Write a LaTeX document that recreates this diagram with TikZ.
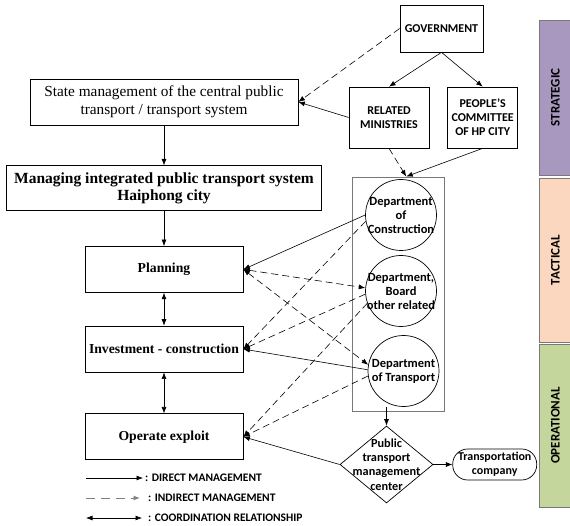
\documentclass[tikz,border=0pt]{standalone}
\usepackage{fontspec}
\setmainfont{Liberation Serif}
\newfontfamily\labelfont{Carlito}
\usetikzlibrary{shapes.geometric, arrows.meta, positioning}
\definecolor{strategic}{RGB}{168, 152, 192}
\definecolor{tactical}{RGB}{250, 215, 190}
\definecolor{operational}{RGB}{196, 214, 155}
\definecolor{framegray}{RGB}{120, 120, 120}
\tikzset{
    mainbox/.style={rectangle, draw, line width=0.7pt, align=center, inner sep=0pt, font=\fontsize{15.3}{17.7}\selectfont},
    stagebox/.style={rectangle, draw, line width=0.7pt, minimum width=158pt, minimum height=46pt, inner sep=0pt, font=\fontsize{13.7}{16}\selectfont\bfseries},
    orgbox/.style={rectangle, draw, line width=0.7pt, align=center, inner sep=0pt, font=\labelfont\fontsize{12}{14}\selectfont\bfseries},
    dept/.style={circle, draw, line width=0.7pt, minimum size=71pt, inner sep=0pt},
    depttext/.style={align=center, inner sep=0pt, font=\labelfont\fontsize{12.5}{14}\selectfont\bfseries},
    hub/.style={diamond, draw, line width=0.7pt, minimum width=93pt, minimum height=77pt, inner sep=0pt},
    company/.style={rectangle, draw, line width=0.7pt, rounded corners=15pt, minimum width=84pt, minimum height=31pt, inner sep=0pt, align=center, font=\labelfont\fontsize{12}{14}\selectfont\bfseries},
    panel/.style={rectangle, draw=framegray, line width=0.9pt},
    levelbar/.style={rectangle, draw=framegray, line width=0.8pt, minimum height=32pt, inner sep=0pt, font=\labelfont\fontsize{13}{15}\selectfont\bfseries},
    direct/.style={draw, -{Latex[length=6.5pt, width=5pt]}, line width=0.6pt},
    indirect/.style={direct, dash pattern=on 7pt off 4pt},
    coord/.style={draw, {Latex[length=6.5pt, width=5pt]}-{Latex[length=6.5pt, width=5pt]}, line width=0.6pt},
    mutual/.style={coord, dash pattern=on 7pt off 4pt},
    legendtext/.style={anchor=west, inner sep=0pt, font=\labelfont\fontsize{11.5}{13}\selectfont\bfseries}
}

\begin{document}
\begin{tikzpicture}[x=1pt, y=-1pt]
        \useasboundingbox (0,0) rectangle (570,526);

        % Left column
        \node [mainbox, minimum width=268pt, minimum height=46pt] (state) at (164,102) {State management of the central public\\transport / transport system};
        \node [mainbox, minimum width=315pt, minimum height=45pt, font=\fontsize{15.5}{17.5}\selectfont\bfseries, below=40pt of state] (managing) {Managing integrated public transport system\\Haiphong city};
        \node [stagebox, below=35pt of managing] (planning) {Planning};
        \node [stagebox, below=33pt of planning] (invest) {Investment - construction};
        \node [stagebox, below=41pt of invest] (operate) {Operate exploit};

        % Government level
        \node [orgbox, minimum width=83pt, minimum height=47pt] (gov) at (441.5,28.5) {GOVERNMENT};
        \node [orgbox, minimum width=80pt, minimum height=61pt] (ministries) at (389,117.5) {RELATED\\MINISTRIES};
        \node [orgbox, minimum width=70pt, minimum height=61pt, right=18pt of ministries] (committee) {PEOPLE’S\\COMMITTEE\\OF HP CITY};

        % Departments
        \node [panel, minimum width=92pt, minimum height=234pt] (panel) at (398,294) {};
        \node [dept, label={[depttext]center:Department\\of\\Construction}] (dcons) at (401,215) {};
        \node [dept, label={[depttext]center:{Department,\\Board\\other related}}] (dboard) at (401,291) {};
        \node [dept, label={[depttext]center:Department\\of Transport}] (dtrans) at (403.5,371) {};

        % Operation
        \node [hub, label={[depttext, font=\labelfont\fontsize{12.3}{14.3}\selectfont\bfseries]center:Public\\transport\\management\\center}] (hub) at (386.5,464.5) {};
        \node [company, right=19pt of hub] (company) {Transportation\\company};

        % Levels
        \node [levelbar, fill=strategic, rotate=90, minimum width=155pt] (strat) at (555.5,97.5) {STRATEGIC};
        \node [levelbar, fill=tactical, rotate=90, minimum width=164pt] (tact) at (555.5,260) {TACTICAL};
        \node [levelbar, fill=operational, rotate=90, minimum width=163pt] (oper) at (555.5,425.5) {OPERATIONAL};

        % Connections
        \draw [direct] (state) -- (managing);
        \draw [direct] (managing) -- (planning);
        \draw [coord] (planning) -- (invest);
        \draw [coord] (invest) -- (operate);
        \draw [indirect] (gov.west) -- (state.east);
        \draw [direct] (gov.south) -- (ministries.north);
        \draw [direct] (gov.south) -- (committee.north);
        \draw [direct] (ministries.west) -- (state.east);
        \draw [indirect] (ministries.south) -- (panel.86);
        \draw [direct] (committee.south) -- (panel.86);

        \draw [direct] (dcons.west) -- (planning.east);
        \draw [indirect] (dcons.190) -- (invest.east);
        \draw [mutual] (planning.east) -- (dboard.175);
        \draw [indirect] (dboard.185) -- (invest.east);
        \draw [indirect] (dboard.200) -- (operate.east);
        \draw [mutual] (planning.east) -- (dtrans.170);
        \draw [direct] (dtrans.178) -- (invest.east);
        \draw [indirect] (dtrans.188) -- (operate.east);

        \draw [direct] (dtrans.south -| hub.north) -- (hub.north);
        \draw [direct] (hub.east) -- (company.west);
        \draw [direct] (hub.west) -- (operate.east);

        % Legend
        \coordinate (lgA) at (86,478);
        \coordinate (lgB) at (86,498);
        \coordinate (lgC) at (86,518);
        \node [legendtext] (lgdirect) at (145,478) {: DIRECT MANAGEMENT};
        \node [legendtext] (lgindirect) at (148,498) {: INDIRECT MANAGEMENT};
        \node [legendtext] (lgcoord) at (148,518) {: COORDINATION RELATIONSHIP};
        \draw [direct] (lgA) -- ([xshift=-2pt]lgdirect.west);
        \draw [indirect, color=gray, line width=1pt, dash pattern=on 9pt off 6pt] (lgB) -- ([xshift=-8pt]lgindirect.west);
        \draw [coord] (lgC) -- ([xshift=-6pt]lgcoord.west);

    \end{tikzpicture}
\end{document}
